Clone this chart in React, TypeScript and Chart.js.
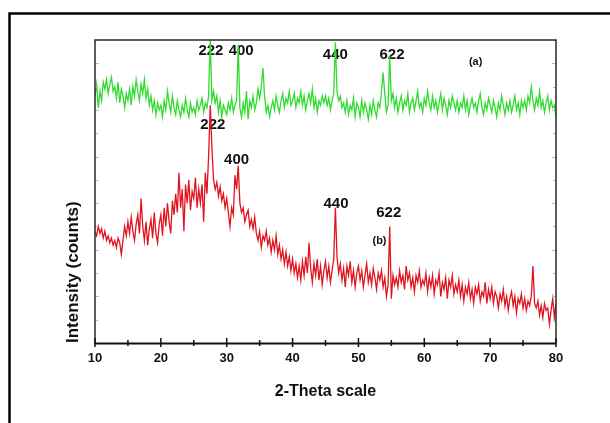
import React, { useEffect, useRef } from 'react';
import { Chart, registerables } from 'chart.js';

Chart.register(...registerables);

// 2-Theta sampling grid
const X_START = 10;
const X_STEP = 0.25;
const X_MIN = 10;
const X_MAX = 80;
const X_TICK_STEP = 10;
const X_MINOR_STEP = 5;
const Y_MIN = 0;
const Y_MAX = 130;
const Y_TICK_STEP = 10;

// (a) upper pattern, green (arbitrary intensity units)
const SERIES_A = [
  106, 111, 101, 108, 104, 112, 109, 113, 107, 111, 114, 108, 110, 105, 112, 103, 109, 106, 101, 107,
  104, 109, 102, 110, 106, 113, 108, 104, 111, 107, 113, 105, 109, 102, 106, 100, 104, 98, 103, 100,
  102, 97, 104, 100, 108, 103, 99, 106, 101, 98, 104, 100, 97, 102, 99, 105, 100, 97, 103, 99,
  101, 98, 104, 100, 102, 105, 99, 103, 101, 106, 131, 104, 108, 103, 106, 99, 104, 97, 102, 100,
  98, 103, 100, 105, 99, 102, 104, 128, 101, 97, 103, 99, 108, 96, 104, 101, 106, 100, 103, 109,
  105, 110, 118, 106, 99, 102, 97, 101, 104, 100, 106, 102, 99, 104, 107, 101, 105, 103, 108, 102,
  104, 107, 101, 105, 103, 108, 102, 106, 100, 104, 107, 103, 109, 101, 105, 99, 104, 102, 106, 103,
  106, 102, 105, 100, 104, 107, 129, 108, 104, 106, 101, 103, 99, 104, 98, 102, 100, 105, 97, 103,
  101, 97, 104, 99, 103, 100, 96, 102, 98, 104, 100, 97, 103, 101, 108, 116, 107, 99, 102, 123,
  104, 107, 101, 105, 99, 103, 106, 100, 104, 102, 107, 99, 103, 105, 100, 104, 108, 101, 103, 99,
  105, 102, 108, 103, 100, 106, 101, 104, 99, 103, 107, 100, 105, 102, 98, 104, 101, 106, 103, 100,
  104, 99, 103, 101, 106, 100, 104, 98, 102, 105, 101, 103, 99, 104, 107, 101, 98, 103, 100, 105,
  102, 99, 104, 101, 97, 103, 100, 106, 102, 98, 103, 100, 104, 99, 102, 106, 100, 103, 98, 104,
  101, 104, 100, 106, 103, 110, 104, 100, 105, 102, 108, 101, 104, 99, 103, 106, 100, 104, 101, 102,
  97,
];

// (b) lower pattern, red
const SERIES_B = [
  48, 46, 50, 47, 49, 45, 48, 44, 46, 43, 45, 42, 44, 41, 45, 43, 38, 44, 50, 46,
  52, 47, 54, 48, 44, 51, 55, 47, 62, 50, 44, 52, 42, 49, 53, 45, 56, 47, 43, 51,
  55, 46, 58, 50, 60, 52, 47, 61, 55, 64, 56, 73, 58, 66, 48, 68, 60, 70, 57, 65,
  62, 71, 58, 66, 60, 68, 52, 73, 64, 80, 102, 84, 70, 66, 69, 63, 67, 61, 64, 58,
  62, 56, 50, 58, 55, 72, 66, 76, 60, 56, 58, 52, 55, 57, 50, 53, 49, 54, 47, 44,
  48, 41, 46, 44, 48, 42, 45, 39, 44, 40, 46, 38, 42, 36, 40, 34, 39, 33, 37, 31,
  36, 30, 34, 28, 33, 27, 35, 29, 37, 30, 43, 32, 26, 34, 29, 36, 27, 33, 25, 31,
  35, 28, 33, 26, 31, 36, 58, 37, 30, 34, 27, 32, 24, 33, 29, 35, 26, 31, 24, 30,
  33, 27, 31, 24, 29, 34, 26, 30, 25, 32, 28, 23, 30, 27, 31, 24, 28, 20, 25, 50,
  19, 29, 25, 28, 24, 31, 26, 29, 23, 33, 27, 30, 24, 28, 22, 29, 26, 31, 24, 27,
  25, 30, 22, 28, 24, 29, 21, 27, 25, 30, 20, 26, 23, 28, 19, 27, 24, 29, 21, 25,
  22, 27, 20, 25, 18, 24, 21, 26, 19, 23, 17, 24, 21, 25, 18, 22, 20, 26, 17, 23,
  19, 24, 17, 22, 20, 15, 21, 18, 23, 16, 20, 14, 19, 22, 16, 20, 13, 19, 17, 21,
  15, 19, 14, 18, 16, 20, 33, 17, 15, 18, 12, 16, 11, 17, 14, 15, 8, 14, 19, 11,
  17,
];

// Peak (hkl) annotations: text, 2-theta, intensity
const PEAK_LABELS = ['222', '400', '440', '622', '(a)', '222', '400', '440', '622', '(b)'];
const PEAK_X = [27.6, 32.2, 46.5, 55.1, 67.8, 27.9, 31.5, 46.6, 54.6, 53.2];
const PEAK_Y = [125.3, 125.3, 123.6, 123.8, 120.6, 93.5, 78.5, 59.9, 56.0, 43.8];

const FONT = "'Liberation Sans', Arial, Helvetica, sans-serif";

export default function App() {
  const ref = useRef<HTMLCanvasElement | null>(null);

  useEffect(() => {
    const canvas = ref.current;
    if (!canvas) return;
    const toPts = (arr: number[]) => arr.map((v, i) => ({ x: X_START + i * X_STEP, y: v }));

    const decor = {
      id: 'decor',
      beforeDraw(chart: any) {
        const ctx = chart.ctx;
        ctx.save();
        ctx.fillStyle = '#ffffff';
        ctx.fillRect(0, 0, chart.width, chart.height);
        ctx.strokeStyle = '#000000';
        ctx.lineWidth = 2.5;
        ctx.beginPath();
        ctx.moveTo(9.5, chart.height + 2);
        ctx.lineTo(9.5, 13.5);
        ctx.lineTo(chart.width + 2, 13.5);
        ctx.stroke();
        ctx.restore();
      },
      beforeDatasetsDraw(chart: any) {
        const ctx = chart.ctx;
        const xs = chart.scales.x;
        const ys = chart.scales.y;
        ctx.save();
        ctx.fillStyle = '#111111';
        ctx.textAlign = 'center';
        ctx.textBaseline = 'middle';
        PEAK_LABELS.forEach((t, i) => {
          const small = t.startsWith('(');
          ctx.font = `bold ${small ? 11 : 15}px ${FONT}`;
          ctx.fillText(t, xs.getPixelForValue(PEAK_X[i]), ys.getPixelForValue(PEAK_Y[i]));
        });
        ctx.restore();
      },
      afterDatasetsDraw(chart: any) {
        const ctx = chart.ctx;
        const { left, right, top, bottom } = chart.chartArea;
        const xs = chart.scales.x;
        const ys = chart.scales.y;
        ctx.save();
        // faint inner ticks on left/right axes
        ctx.strokeStyle = '#b8b8b8';
        ctx.lineWidth = 1;
        for (let v = Y_MIN; v <= Y_MAX; v += Y_TICK_STEP) {
          const py = Math.round(ys.getPixelForValue(v)) + 0.5;
          const len = (v / Y_TICK_STEP) % 2 === 0 ? 4 : 3;
          ctx.beginPath();
          ctx.moveTo(left, py);
          ctx.lineTo(left + len, py);
          ctx.moveTo(right, py);
          ctx.lineTo(right - len, py);
          ctx.stroke();
        }
        // frame
        ctx.strokeStyle = '#2a2a2a';
        ctx.lineWidth = 1.5;
        ctx.beginPath();
        ctx.moveTo(left, bottom);
        ctx.lineTo(left, top);
        ctx.lineTo(right, top);
        ctx.lineTo(right, bottom);
        ctx.stroke();
        // x axis line
        ctx.strokeStyle = '#111111';
        ctx.lineWidth = 2;
        ctx.beginPath();
        ctx.moveTo(left - 0.5, bottom + 0.5);
        ctx.lineTo(right + 0.5, bottom + 0.5);
        ctx.stroke();
        // x ticks
        ctx.lineWidth = 1.5;
        for (let v = X_MIN; v <= X_MAX; v += X_MINOR_STEP) {
          const px = xs.getPixelForValue(v);
          const major = (v - X_MIN) % X_TICK_STEP === 0;
          ctx.beginPath();
          ctx.moveTo(px, bottom - (major ? 5 : 3));
          ctx.lineTo(px, bottom + (major ? 4 : 3));
          ctx.stroke();
        }
        ctx.restore();
      },
    };

    const chart = new Chart(canvas, {
      type: 'line',
      data: {
        datasets: [
          {
            label: '(a)',
            data: toPts(SERIES_A),
            borderColor: '#2fdc2f',
            borderWidth: 1.3,
            pointRadius: 0,
            tension: 0,
            fill: false,
          },
          {
            label: '(b)',
            data: toPts(SERIES_B),
            borderColor: '#e0141e',
            borderWidth: 1.3,
            pointRadius: 0,
            tension: 0,
            fill: false,
          },
        ],
      },
      options: {
        animation: false,
        responsive: false,
        devicePixelRatio: 1,
        events: [],
        layout: { padding: { left: 0, top: 40, right: 54, bottom: 0 } },
        plugins: {
          legend: { display: false },
          tooltip: { enabled: false },
        },
        scales: {
          x: {
            type: 'linear',
            min: X_MIN,
            max: X_MAX,
            grid: { display: false, drawTicks: false },
            border: { display: false },
            ticks: {
              stepSize: X_TICK_STEP,
              padding: 8,
              color: '#111111',
              font: { family: FONT, size: 13, weight: 'bold' },
              maxRotation: 0,
              autoSkip: false,
            },
            title: {
              display: true,
              text: '2-Theta scale',
              color: '#111111',
              font: { family: FONT, size: 16, weight: 'bold' },
              padding: { top: 0, bottom: 22 },
            },
            afterFit(scale: any) {
              scale.height = 80;
            },
          },
          y: {
            type: 'linear',
            min: Y_MIN,
            max: Y_MAX,
            grid: { display: false, drawTicks: false },
            border: { display: false },
            ticks: { display: false, stepSize: Y_TICK_STEP },
            title: {
              display: true,
              text: 'Intensity (counts)',
              align: 'start',
              color: '#111111',
              font: { family: FONT, size: 17, weight: 'bold' },
              padding: { top: 63, bottom: 0 },
            },
            afterFit(scale: any) {
              scale.width = 95;
            },
          },
        },
      },
      plugins: [decor],
    } as any);

    return () => chart.destroy();
  }, []);

  return (
    <div style={{ position: 'fixed', left: 0, top: 0, width: 610, height: 423, background: '#ffffff' }}>
      <canvas ref={ref} width={610} height={423} style={{ display: 'block', width: 610, height: 423 }} />
    </div>
  );
}
